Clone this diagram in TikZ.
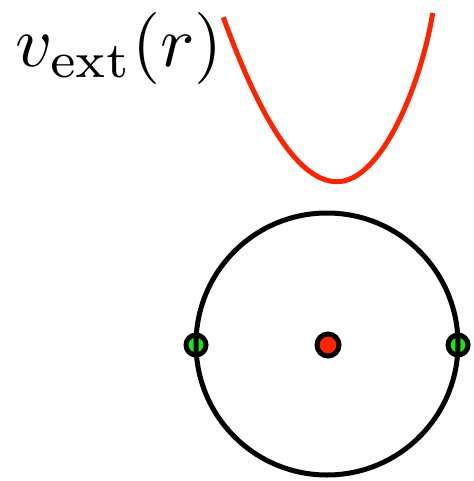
\documentclass[tikz,border=0pt]{standalone}
\usepackage{xcolor}
\definecolor{potred}{RGB}{255,36,0}
\definecolor{dotgreen}{RGB}{20,235,20}
\begin{document}
\begin{tikzpicture}[x=1pt,y=-1pt,
  dotg/.style={circle,draw=black,line width=5pt,fill=dotgreen,inner sep=0pt,minimum size=20pt},
  dotr/.style={circle,draw=black,line width=5pt,fill=potred,inner sep=0pt,minimum size=22pt},
  ring/.style={circle,draw=black,line width=5pt,inner sep=0pt,minimum size=262pt},
  pot/.style={draw=potred,line width=5pt}]
\useasboundingbox (0,0) rectangle (473,481);
\node[dotg] (gl) at (196,345) {};
\node[dotg] (gr) at (458,345) {};
\node[dotr] (c) at (328,345) {};
\node[ring] (orbit) at (327,344) {};
\coordinate (pl) at (223.3,17.3);
\coordinate (pmin) at (337,181.7);
\coordinate (pr) at (432.7,13);
\draw[pot] (pl) .. controls (263.1,126.9) and (301,181.7) .. (pmin)
  .. controls (382,181.7) and (421.4,83) .. (pr);
\node[anchor=base west,inner sep=0pt,scale=7.2] (lab) at (14,67) {$v_{\rm ext}(r)$};
\end{tikzpicture}
\end{document}
